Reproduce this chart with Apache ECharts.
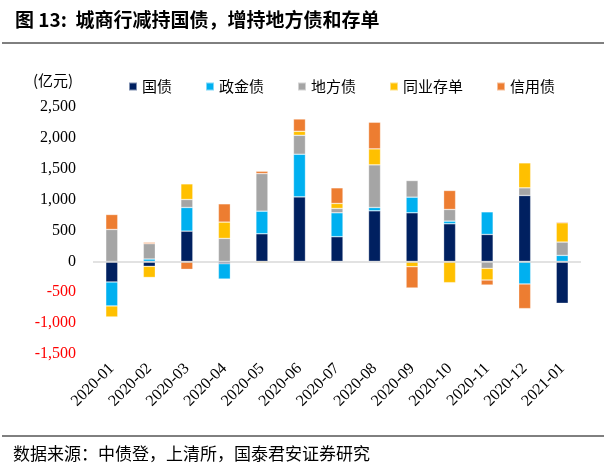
<!DOCTYPE html>
<html>
<head>
<meta charset="utf-8">
<script src="https://cdn.jsdelivr.net/npm/echarts@6/dist/echarts.min.js"></script>
<style>
  html, body { margin: 0; padding: 0; background: #fff; }
  #main { width: 604px; height: 475px; }
</style>
</head>
<body>
<div id="main"></div>
<script>
// 月份
var months = ['2020-01', '2020-02', '2020-03', '2020-04', '2020-05', '2020-06', '2020-07',
  '2020-08', '2020-09', '2020-10', '2020-11', '2020-12', '2021-01'];

// 城商行各券种净增持（亿元）
var guozhai = [-334, -80, 490, -38, 447, 1045, 399, 819, 787, 609, 436, 1067, -679];
var zhengjinzhai = [-388, 38, 383, -248, 366, 690, 388, 54, 253, 43, 366, -366, 97];
var difangzhai = [517, 248, 129, 372, 609, 307, 70, 690, 269, 189, -113, 124, 216];
var tongyecundan = [-178, -180, 253, 264, -22, 65, 81, 259, -86, -345, -189, 404, 312];
var xinyongzhai = [242, 22, -129, 296, 38, 199, 253, 431, -345, 307, -81, -399, 16];

var yTicks = [-1500, -1000, -500, 0, 500, 1000, 1500, 2000, 2500];

var serif = '"Liberation Serif", "Noto Sans CJK SC", serif';
var cjk = '"Noto Sans CJK SC", sans-serif';

function fmt(v) {
  var s = Math.abs(v).toString().replace(/\B(?=(\d{3})+(?!\d))/g, ',');
  return (v < 0 ? '-' : '') + s;
}

function mkSeries(name, data, color) {
  return {
    name: name,
    type: 'bar',
    stack: 'total',
    barWidth: 12,
    data: data,
    itemStyle: { color: color, borderColor: 'rgba(255,255,255,0.5)', borderWidth: 0.6 }
  };
}

var myChart = echarts.init(document.getElementById('main'));

var option = {
  animation: false,
  backgroundColor: '#fff',
  grid: { left: 93, right: 23, top: 107, bottom: 121, outerBoundsMode: 'none', containLabel: false },
  legend: {
    left: 123,
    top: 74,
    itemWidth: 8,
    itemHeight: 8,
    itemGap: 33,
    icon: 'rect',
    textStyle: { fontFamily: cjk, fontSize: 15, color: '#000' },
    data: ['国债', '政金债', '地方债', '同业存单', '信用债']
  },
  graphic: [
    { type: 'text', left: 15, top: 10,
      style: { text: '图 13:  城商行减持国债，增持地方债和存单', font: 'bold 19px ' + cjk, fill: '#000' } },
    { type: 'line', shape: { x1: 2, y1: 43, x2: 604, y2: 43 }, style: { stroke: '#000', lineWidth: 1 } },
    { type: 'text', left: 33, top: 73,
      style: { text: '(亿元)', font: '15px ' + cjk, fill: '#000' } },
    { type: 'line', shape: { x1: 2, y1: 436, x2: 604, y2: 436 }, style: { stroke: '#000', lineWidth: 1 } },
    { type: 'text', left: 13, top: 445,
      style: { text: '数据来源：中债登，上清所，国泰君安证券研究', font: '17px ' + cjk, fill: '#000' } }
  ],
  xAxis: {
    type: 'category',
    data: months,
    axisLine: { show: false },
    axisTick: { show: false },
    axisLabel: {
      rotate: 45,
      interval: 0,
      margin: 12,
      fontFamily: serif,
      fontSize: 16,
      color: '#000'
    }
  },
  yAxis: {
    type: 'value',
    min: yTicks[0],
    max: yTicks[yTicks.length - 1],
    interval: 500,
    splitLine: { show: false },
    axisLine: { show: false },
    axisTick: { show: false },
    axisLabel: {
      fontFamily: serif,
      fontSize: 16,
      margin: 17,
      color: function (v) { return Number(v) < 0 ? '#ff0000' : '#000'; },
      formatter: function (v) { return fmt(v); }
    }
  },
  series: [
    mkSeries('国债', guozhai, '#002060'),
    mkSeries('政金债', zhengjinzhai, '#00b0f0'),
    mkSeries('地方债', difangzhai, '#a5a5a5'),
    mkSeries('同业存单', tongyecundan, '#ffc000'),
    mkSeries('信用债', xinyongzhai, '#ed7d31'),
    {
      type: 'line',
      data: [],
      markLine: {
        silent: true,
        symbol: 'none',
        label: { show: false },
        lineStyle: { color: '#d9d9d9', type: 'solid', width: 1.5 },
        data: [{ yAxis: 0 }]
      }
    }
  ]
};

myChart.setOption(option);
</script>
</body>
</html>
